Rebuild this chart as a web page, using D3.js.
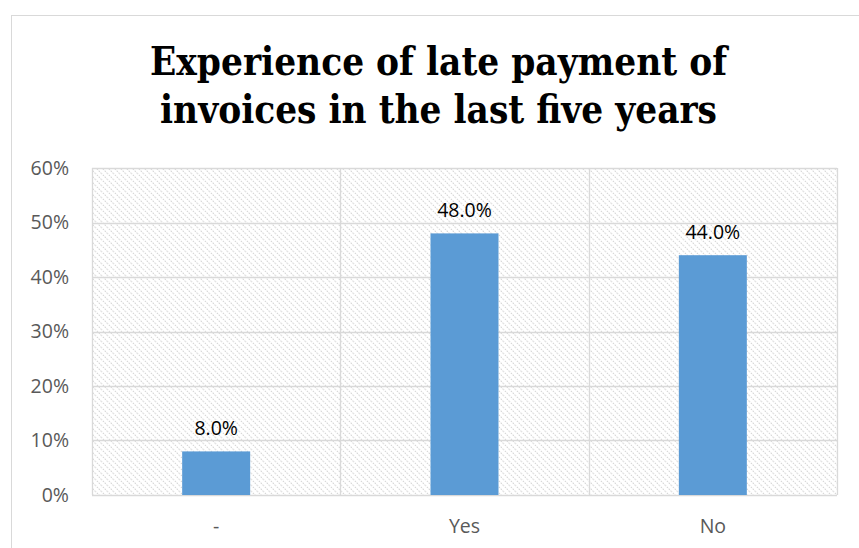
<!DOCTYPE html>
<html>
<head>
<meta charset="utf-8">
<script src="https://cdn.jsdelivr.net/npm/d3@7"></script>
<style>
  html, body { margin: 0; padding: 0; background: #fff; }
  svg { display: block; }
</style>
</head>
<body>
<svg id="chart" width="859" height="548"></svg>
<script>
// Survey responses: share of respondents per answer
const categories = ["-", "Yes", "No"];
const values = [0.08, 0.48, 0.44];
const valueLabels = ["8.0%", "48.0%", "44.0%"];
const yTicks = [0, 0.1, 0.2, 0.3, 0.4, 0.5, 0.6];
const titleLines = ["Experience of late payment of", "invoices in the last five years"];

const svg = d3.select("#chart");
const W = 859, H = 548;
const plot = { left: 92, top: 168, right: 837, bottom: 495 };

// Outer chart frame
svg.append("rect")
  .attr("x", 11.5).attr("y", 15.5)
  .attr("width", W + 10).attr("height", H + 10)
  .attr("fill", "#fff").attr("stroke", "#d9d9d9").attr("stroke-width", 1);

// Diagonal hatch used for the plot background
const defs = svg.append("defs");
const pat = defs.append("pattern")
  .attr("id", "hatch").attr("patternUnits", "userSpaceOnUse")
  .attr("width", 6).attr("height", 6);
pat.append("path").attr("d", "M-1,-1 L7,7 M-1,5 L1,7 M5,-1 L7,1")
  .attr("stroke", "#d6d6d6").attr("stroke-width", 1.1)
  .attr("stroke-dasharray", "1.6,1");

const x = d3.scaleBand().domain(categories)
  .range([plot.left, plot.right]).paddingInner(0).paddingOuter(0);
const y = d3.scaleLinear().domain([0, 0.6]).range([plot.bottom, plot.top]);

svg.append("rect")
  .attr("x", plot.left).attr("y", plot.top)
  .attr("width", plot.right - plot.left).attr("height", plot.bottom - plot.top)
  .attr("fill", "url(#hatch)");

// Horizontal gridlines
svg.append("g").selectAll("line").data(yTicks).join("line")
  .attr("x1", plot.left).attr("x2", plot.right)
  .attr("y1", d => Math.round(y(d)) + 0.5).attr("y2", d => Math.round(y(d)) + 0.5)
  .attr("stroke", "#d9d9d9").attr("stroke-width", 1.3);

// Vertical gridlines at category boundaries and plot edges
const bounds = categories.map(c => x(c)).concat([plot.right]);
svg.append("g").selectAll("line").data(bounds).join("line")
  .attr("x1", d => Math.round(d) + 0.5).attr("x2", d => Math.round(d) + 0.5)
  .attr("y1", plot.top).attr("y2", plot.bottom)
  .attr("stroke", "#d9d9d9").attr("stroke-width", 1.3);

const labelFont = "'Open Sans', sans-serif";

// Y axis labels
const yAxis = d3.axisLeft(y).tickValues(yTicks)
  .tickFormat(d3.format(".0%")).tickSize(0).tickPadding(23);
const gy = svg.append("g").attr("transform", `translate(${plot.left},0)`).call(yAxis);
gy.select(".domain").remove();
gy.selectAll("text")
  .attr("font-family", labelFont).attr("font-size", 19.5)
  .attr("fill", "#595959");

// X axis labels
const xAxis = d3.axisBottom(x).tickSize(0).tickPadding(24);
const gx = svg.append("g").attr("transform", `translate(0,${plot.bottom})`).call(xAxis);
gx.select(".domain").remove();
gx.selectAll("text")
  .attr("font-family", labelFont).attr("font-size", 19.5)
  .attr("fill", "#595959");

// Bars
const barW = 68;
svg.append("g").selectAll("rect").data(categories).join("rect")
  .attr("x", (d) => x(d) + x.bandwidth() / 2 - barW / 2)
  .attr("y", (d, i) => y(values[i]))
  .attr("width", barW)
  .attr("height", (d, i) => y(0) - y(values[i]))
  .attr("fill", "#5b9bd5");

// Value labels
svg.append("g").selectAll("text").data(categories).join("text")
  .attr("x", d => x(d) + x.bandwidth() / 2)
  .attr("y", (d, i) => y(values[i]) - 16)
  .attr("text-anchor", "middle")
  .attr("font-family", labelFont).attr("font-size", 19.5)
  .attr("fill", "#000")
  .text((d, i) => valueLabels[i]);

// Title, two centred lines
const titleWidths = [577, 557];
svg.append("g").selectAll("text").data(titleLines).join("text")
  .attr("x", 438.5).attr("y", (d, i) => 75 + i * 48)
  .attr("text-anchor", "middle")
  .attr("font-family", "'DejaVu Serif', serif").attr("font-weight", "bold")
  .attr("font-size", 40).attr("fill", "#000")
  .attr("textLength", (d, i) => titleWidths[i])
  .attr("lengthAdjust", "spacingAndGlyphs")
  .text(d => d);
</script>
</body>
</html>
